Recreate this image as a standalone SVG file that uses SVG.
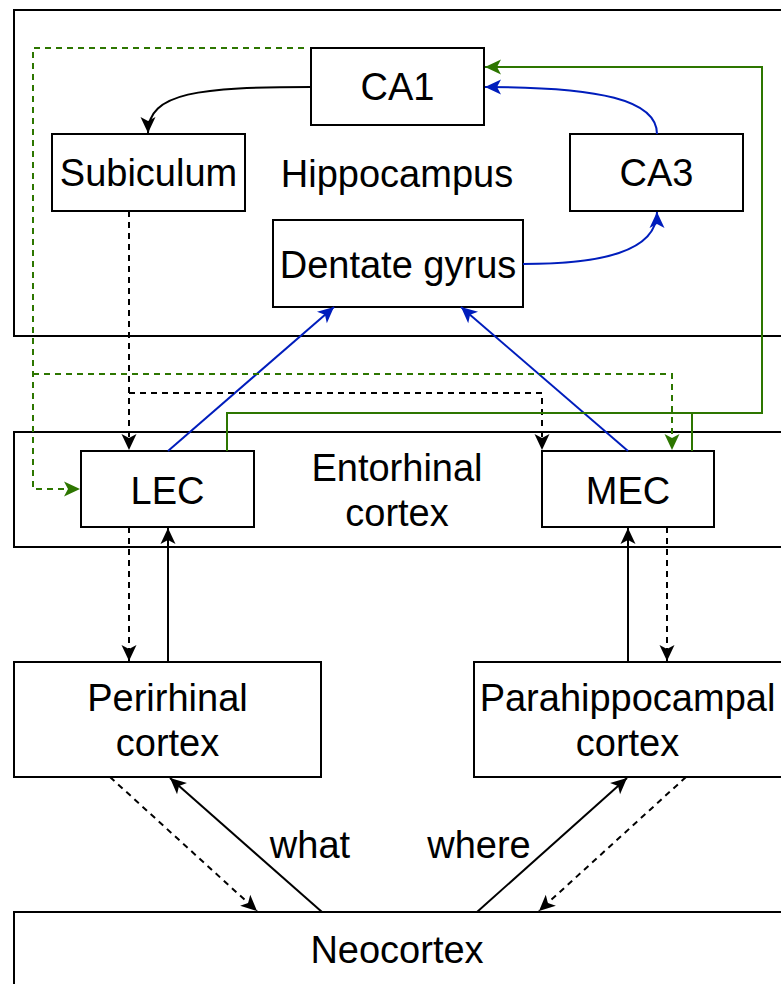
<svg xmlns="http://www.w3.org/2000/svg" width="781" height="984" viewBox="0 0 781 984">
<style>
.box{fill:#fff;stroke:#000;stroke-width:2}
.t{font-family:"Liberation Sans",Arial,sans-serif;font-size:38px;fill:#000;text-anchor:middle}
.e{fill:none;stroke-width:2}
.k{stroke:#000}
.b{stroke:#001DBC}
.g{stroke:#2D7600}
.d{stroke-dasharray:6 5}
</style>
<defs>
<marker id="ak" markerUnits="userSpaceOnUse" markerWidth="18" markerHeight="18" viewBox="0 0 18 18" refX="17" refY="9" orient="auto"><path d="M17,9 L1,1.5 L5,9 L1,16.5 Z" fill="#000"/></marker>
<marker id="ab" markerUnits="userSpaceOnUse" markerWidth="18" markerHeight="18" viewBox="0 0 18 18" refX="17" refY="9" orient="auto"><path d="M17,9 L1,1.5 L5,9 L1,16.5 Z" fill="#001DBC"/></marker>
<marker id="ag" markerUnits="userSpaceOnUse" markerWidth="18" markerHeight="18" viewBox="0 0 18 18" refX="17" refY="9" orient="auto"><path d="M17,9 L1,1.5 L5,9 L1,16.5 Z" fill="#2D7600"/></marker>
</defs>
<g id="hippocampus"><rect class="box" x="14" y="10" width="768" height="326"/><text class="t" x="397" y="187">Hippocampus</text></g>
<g id="entorhinal"><rect class="box" x="14" y="432" width="768" height="115"/><text class="t" x="397" y="481">Entorhinal</text><text class="t" x="397" y="526">cortex</text></g>
<g id="neocortex"><rect class="box" x="14" y="912" width="768" height="80"/><text class="t" x="397" y="963">Neocortex</text></g>
<g id="ca1"><rect class="box" x="311" y="48" width="173" height="77"/><text class="t" x="397.5" y="100">CA1</text></g>
<g id="subiculum"><rect class="box" x="52" y="134" width="193" height="77"/><text class="t" x="148.5" y="186">Subiculum</text></g>
<g id="ca3"><rect class="box" x="570" y="134" width="173" height="77"/><text class="t" x="656.5" y="186">CA3</text></g>
<g id="dentate"><rect class="box" x="273" y="220" width="250" height="87"/><text class="t" x="398" y="278">Dentate gyrus</text></g>
<g id="lec"><rect class="box" x="81" y="451" width="173" height="76"/><text class="t" x="167.5" y="504">LEC</text></g>
<g id="mec"><rect class="box" x="542" y="451" width="172" height="76"/><text class="t" x="628" y="504">MEC</text></g>
<g id="perirhinal"><rect class="box" x="14" y="662" width="307" height="115"/><text class="t" x="167.5" y="711">Perirhinal</text><text class="t" x="167.5" y="756">cortex</text></g>
<g id="parahippocampal"><rect class="box" x="474" y="662" width="308" height="115"/><text class="t" x="627.5" y="711">Parahippocampal</text><text class="t" x="627.5" y="756">cortex</text></g>
<g id="connectors">
<path class="e k" d="M311,87 C200,87 148,92 148,133" marker-end="url(#ak)"/>
<path class="e b" d="M657,134 C657,100 600,87 485,87" marker-end="url(#ab)"/>
<path class="e b" d="M523,264 C600,264 657,252 657,212" marker-end="url(#ab)"/>
<path class="e b" d="M168,451 L334,307" marker-end="url(#ab)"/>
<path class="e b" d="M628,451 L461,307" marker-end="url(#ab)"/>
<path class="e k d" d="M129,211 L129,450" marker-end="url(#ak)"/>
<path class="e k d" d="M129,393 L542,393 L542,450" marker-end="url(#ak)"/>
<path class="e g d" d="M304,48 L33,48 L33,489 L80,489" marker-end="url(#ag)"/>
<path class="e g d" d="M33,374 L672,374 L672,450" marker-end="url(#ag)"/>
<path class="e g" d="M227,451 L227,413 L762,413 L762,67 L485,67" marker-end="url(#ag)"/>
<path class="e g" d="M692,451 L692,413"/>
<path class="e k d" d="M129,527 L129,661" marker-end="url(#ak)"/>
<path class="e k" d="M168,662 L168,528" marker-end="url(#ak)"/>
<path class="e k" d="M628,662 L628,528" marker-end="url(#ak)"/>
<path class="e k d" d="M667,527 L667,661" marker-end="url(#ak)"/>
<path class="e k d" d="M110,777 L257,911" marker-end="url(#ak)"/>
<path class="e k" d="M322,912 L170,778" marker-end="url(#ak)"/>
<path class="e k" d="M477,912 L627,778" marker-end="url(#ak)"/>
<path class="e k d" d="M686,777 L539,911" marker-end="url(#ak)"/>
</g>
<text class="t" x="310" y="858">what</text>
<text class="t" x="479" y="858">where</text>
</svg>
